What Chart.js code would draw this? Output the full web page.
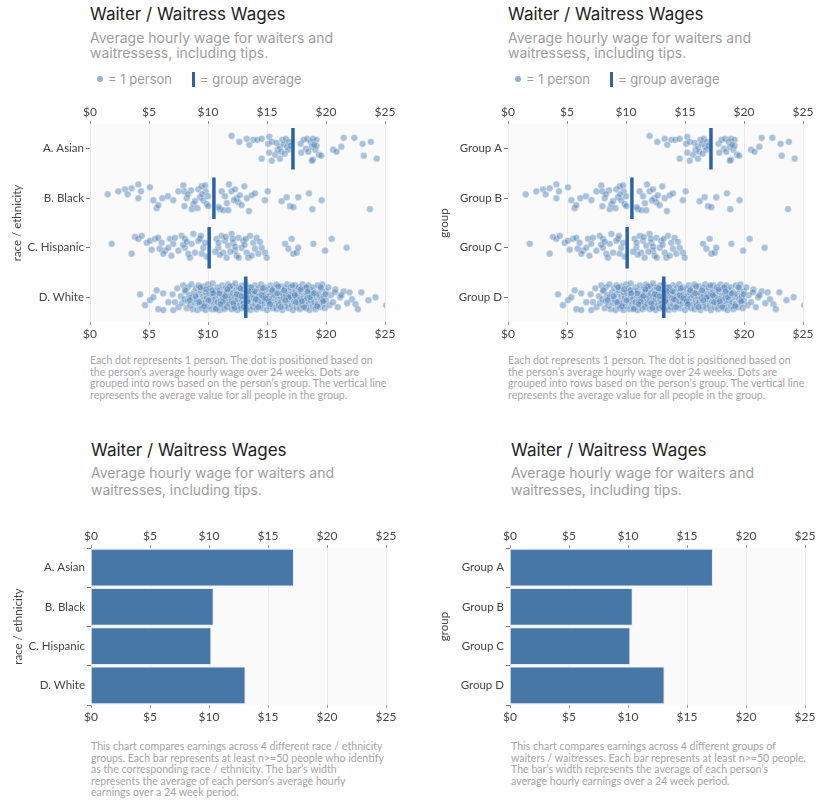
<!DOCTYPE html>
<html>
<head>
<meta charset="utf-8">
<script src="https://cdn.jsdelivr.net/npm/chart.js@4.4.1/dist/chart.umd.min.js"></script>
<style>
    body { margin: 0; background: #fff; width: 830px; height: 809px; position: relative; overflow: hidden; }
    .title { position: absolute; font-family: Inter, sans-serif; font-weight: 400; font-size: 17px; line-height: 20px; color: #222; white-space: nowrap; }
    .sub { position: absolute; font-family: Inter, sans-serif; font-size: 14px; color: #9d9d9d; white-space: nowrap; }
    .legend { position: absolute; font-family: Inter, sans-serif; font-size: 13px; line-height: 16px; color: #9d9d9d; white-space: nowrap; }
    .legend .dot { display: inline-block; width: 6px; height: 6px; border-radius: 50%; background: #8fb2d6; margin-right: 5px; vertical-align: 2px; }
    .legend .bar { display: inline-block; width: 3px; height: 15px; background: #2b64a6; margin: 0 5px 0 20px; vertical-align: -3px; }
    .caption { position: absolute; font-family: Lato, sans-serif; font-size: 10.6px; color: #a4a4a4; white-space: nowrap; }
    canvas { position: absolute; }
</style>
</head>
<body>

<!-- top left -->
<div class="title" style="left:90px;top:4px">Waiter / Waitress Wages</div>
<div class="sub" style="left:90px;top:30px;line-height:15px">Average hourly wage for waiters and<br>waitressess, including tips.</div>
<div class="legend" style="left:97px;top:71px"><span class="dot"></span>= 1 person<span class="bar"></span>= group average</div>
<canvas id="dotsRace" width="400" height="250" style="left:0;top:95px"></canvas>
<div class="caption" style="left:90px;top:355px;line-height:11.5px">Each dot represents 1 person. The dot is positioned based on<br>the person’s average hourly wage over 24 weeks. Dots are<br>grouped into rows based on the person’s group. The vertical line<br>represents the average value for all people in the group.</div>

<!-- top right -->
<div class="title" style="left:508px;top:4px">Waiter / Waitress Wages</div>
<div class="sub" style="left:508px;top:30px;line-height:15px">Average hourly wage for waiters and<br>waitressess, including tips.</div>
<div class="legend" style="left:515px;top:71px"><span class="dot"></span>= 1 person<span class="bar"></span>= group average</div>
<canvas id="dotsGroup" width="400" height="250" style="left:418px;top:95px"></canvas>
<div class="caption" style="left:508px;top:355px;line-height:11.5px">Each dot represents 1 person. The dot is positioned based on<br>the person’s average hourly wage over 24 weeks. Dots are<br>grouped into rows based on the person’s group. The vertical line<br>represents the average value for all people in the group.</div>

<!-- bottom left -->
<div class="title" style="left:91px;top:440px">Waiter / Waitress Wages</div>
<div class="sub" style="left:91px;top:465px;line-height:16.5px">Average hourly wage for waiters and<br>waitresses, including tips.</div>
<canvas id="barsRace" width="400" height="209" style="left:1px;top:518px"></canvas>
<div class="caption" style="left:91px;top:741px;line-height:11.6px">This chart compares earnings across 4 different race / ethnicity<br>groups. Each bar represents at least n&gt;=50 people who identify<br>as the corresponding race / ethnicity. The bar’s width<br>represents the average of each person’s average hourly<br>earnings over a 24 week period.</div>

<!-- bottom right -->
<div class="title" style="left:511px;top:440px">Waiter / Waitress Wages</div>
<div class="sub" style="left:511px;top:465px;line-height:16.5px">Average hourly wage for waiters and<br>waitresses, including tips.</div>
<canvas id="barsGroup" width="400" height="209" style="left:420px;top:518px"></canvas>
<div class="caption" style="left:511px;top:741px;line-height:11.7px">This chart compares earnings across 4 different groups of<br>waiters / waitresses. Each bar represents at least n&gt;=50 people.<br>The bar’s width represents the average of each person’s<br>average hourly earnings over a 24 week period.</div>

<script>
const raceLabels = ["A. Asian", "B. Black", "C. Hispanic", "D. White"];
const groupLabels = ["Group A", "Group B", "Group C", "Group D"];
const xTicks = [0, 5, 10, 15, 20, 25];

// bar widths = average hourly wage per group
const barValues = [17.2, 10.4, 10.2, 13.1];
// vertical line in the dot plots
const groupAverages = [17.2, 10.5, 10.1, 13.2];

// one person = [wage, vertical jitter inside the row]
const asianDots = [
    [12.0,-13],[12.65,-7],[13.28,-10],[13.5,-4],[13.84,-9],[14.18,-9],[14.55,-10],[15.2,-12],[15.1,-5],[15.4,-7],
    [14.55,10],[15.2,4],[15.4,12],[15.7,6],[15.9,1],[16.1,-2],[16.3,-9],[16.44,-5],[16.6,-10],[16.7,-2],
    [16.86,-7],[16.1,10],[16.8,1],[17.0,-3],[17.85,-5],[18.1,-9],[18.4,-10],[18.7,-7],[18.9,-10],[19.2,-9],
    [18.3,0],[18.5,3],[18.8,-2],[19.1,1],[18.9,11],[19.4,6],[19.2,-3],[19.6,7],[20.6,1],[20.9,3],
    [21.3,-2],[21.5,-11],[22.4,-11],[23.1,-5],[23.8,-7],[23.2,7],[24.3,10],[18.8,12],[16.2,3],[16.5,5],
    [15.8,-6],[17.9,4],[19.0,-4]
];
const blackDots = [
    [1.5,-4],[2.4,-7],[2.97,-9],[3.19,-4],[3.53,-10],[4.1,-14],[4.1,0],[4.32,-7],[5.08,-11],[5.37,2],
    [5.65,10],[5.79,7],[6.13,0],[7.06,2],[7.49,-7],[7.91,-13],[7.99,-7],[8.19,0],[8.56,-8],[8.62,11],
    [8.76,6],[9.18,-9],[9.32,-1],[9.46,-12],[9.6,2],[9.8,-7],[9.89,6],[10.03,8],[9.75,-13],[11.02,11],
    [11.3,12],[11.72,12],[11.16,-7],[11.44,-2],[11.78,-14],[12.0,-7],[12.29,-9],[12.43,0],[12.57,4],[12.85,7],
    [13.08,-12],[13.28,0],[13.47,13],[13.7,-3],[13.98,-5],[14.83,2],[15.06,-7],[16.24,3],[16.67,-1],[16.95,8],
    [17.23,9],[17.65,-1],[18.56,-5],[18.84,11],[19.63,2],[23.73,11],[8.3,-4],[8.9,3],[9.1,10],[9.5,-4],
    [10.0,-2],[11.6,5],[12.2,2],[12.7,-3],[10.9,9],[8.0,8],[6.6,-2]
];
const hispanicDots = [
    [1.84,-4],[3.53,6],[3.81,-11],[4.1,-9],[4.38,-12],[4.8,-5],[5.08,-7],[5.23,2],[5.51,-9],[5.79,-10],
    [6.07,-5],[6.36,3],[6.21,6],[6.64,0],[6.78,-9],[7.06,-4],[7.2,-10],[7.49,3],[7.77,-12],[8.05,-9],
    [8.05,0],[8.33,6],[8.47,10],[8.62,-4],[8.76,-14],[8.9,5],[9.18,-7],[9.32,-9],[9.46,6],[9.6,0],
    [9.75,-5],[10.73,-9],[10.88,0],[11.16,-12],[11.3,5],[11.44,-7],[11.58,10],[11.72,-2],[12.0,-14],[12.15,-5],
    [12.29,3],[12.43,8],[12.57,-10],[12.85,0],[12.99,-7],[13.28,5],[13.42,10],[13.56,-12],[13.84,-5],[13.98,1],
    [14.12,-10],[14.27,6],[14.55,0],[14.83,5],[14.97,10],[16.53,-4],[16.81,1],[17.09,-9],[17.23,6],[17.51,5],
    [17.65,0],[18.93,-4],[19.92,3],[20.48,-9],[21.75,0],[9.4,-12],[9.9,9],[10.9,-5],[11.0,7],[11.9,4],
    [12.1,-9],[12.6,10],[13.1,-3],[13.7,8],[14.4,-6],[11.5,-11],[10.6,4],[7.9,-3],[6.9,8],[5.9,1],
    [12.3,-1],[8.2,-6],[13.2,-9]
];
const whiteDots = [
    [4.24,-3],[4.66,8],[5.08,3],[5.37,0],[5.65,-7],[5.79,12],[6.21,13],[7.06,13],[6.64,5],[6.2,-4],
    [7.0,-3],[7.2,5],[7.4,-9],[7.5,10],[7.7,-1],[7.8,6],[7.9,-12],[8.0,2],[8.1,-6],[8.2,11],
    [8.3,-10],[8.3,4],[8.4,-2],[8.5,8],[8.6,-13],[8.6,0],[8.7,12],[8.8,-5],[8.9,6],[9.0,-9],
    [9.0,2],[9.1,13],[9.2,-12],[9.2,-3],[9.3,8],[9.4,-7],[9.4,4],[9.5,11],[9.6,-1],[9.6,-11],
    [9.7,6],[9.8,-5],[9.8,13],[9.9,1],[10.0,-13],[10.0,9],[10.1,-4],[10.2,4],[10.2,-9],[10.3,12],
    [10.4,-1],[10.4,-14],[10.5,7],[10.6,-6],[10.6,2],[10.7,11],[10.8,-10],[10.8,5],[10.9,-2],[11.0,13],
    [11.0,-7],[11.1,3],[11.2,-12],[11.2,8],[11.3,-3],[11.3,0],[11.4,12],[11.5,-9],[11.5,5],[11.6,-5],
    [11.6,10],[11.7,-13],[11.7,1],[11.8,7],[11.9,-8],[11.9,-1],[12.0,12],[12.0,4],[12.1,-11],[12.1,-4],
    [12.2,9],[12.3,0],[12.3,-14],[12.4,6],[12.4,-7],[12.5,13],[12.5,2],[12.6,-10],[12.6,-2],[12.7,8],
    [12.8,-5],[12.8,11],[12.9,3],[12.9,-12],[13.0,-8],[13.0,6],[13.1,0],[13.2,12],[13.2,-13],[13.3,-4],
    [13.4,9],[13.4,2],[13.5,-10],[13.5,-1],[13.6,13],[13.6,5],[13.7,-7],[13.8,10],[13.8,-3],[13.9,1],
    [14.0,-12],[14.0,7],[14.1,-5],[14.1,12],[14.2,3],[14.3,-9],[14.3,-1],[14.4,8],[14.5,-13],[14.5,4],
    [14.6,-6],[14.6,11],[14.7,0],[14.8,-10],[14.8,6],[14.9,-3],[15.0,13],[15.0,2],[15.1,-8],[15.2,9],
    [15.2,-1],[15.3,-12],[15.3,5],[15.4,-5],[15.5,11],[15.5,1],[15.6,-9],[15.7,7],[15.7,-2],[15.8,-13],
    [15.8,12],[15.9,3],[16.0,-6],[16.0,8],[16.1,-1],[16.2,-11],[16.2,5],[16.3,13],[16.3,-4],[16.4,1],
    [16.5,-9],[16.5,9],[16.6,-2],[16.7,-13],[16.7,6],[16.8,11],[16.8,-6],[16.9,2],[17.0,-10],[17.0,-1],
    [17.1,8],[17.2,-4],[17.2,13],[17.3,4],[17.4,-12],[17.4,-7],[17.5,10],[17.5,0],[17.6,-3],[17.7,6],
    [17.7,-10],[17.8,12],[17.8,2],[17.9,-6],[18.0,-13],[18.0,8],[18.1,-1],[18.2,4],[18.2,-9],[18.3,11],
    [18.4,-4],[18.4,1],[18.5,-12],[18.5,7],[18.6,13],[18.7,-7],[18.7,3],[18.8,-2],[18.9,9],[18.9,-10],
    [19.0,5],[19.1,-5],[19.1,12],[19.2,0],[19.3,-12],[19.3,7],[19.4,-3],[19.5,10],[19.6,-8],[19.6,2],
    [19.7,-13],[19.8,6],[19.8,-1],[19.9,11],[20.0,-6],[20.0,3],[20.2,-10],[20.3,8],[20.4,-2],[20.6,5],
    [20.8,-8],[21.0,10],[21.2,0],[21.5,-6],[21.8,6],[20.76,-5],[21.3,-2],[22.0,-5],[22.2,2],[22.5,7],
    [23.0,-5],[23.6,3],[24.2,0],[25.1,8],[22.7,12],
    [8.05,-7],[8.45,3],[8.95,-1],[9.35,-10],[9.65,9],[10.05,3],[10.35,-7],[10.65,12],[10.95,-4],[11.25,4],
    [11.45,-1],[11.85,-11],[12.15,6],[12.45,-3],[12.75,-9],[13.05,10],[13.35,4],[13.65,-10],[13.95,-6],[14.25,10],
    [14.55,-2],[14.85,1],[15.15,4],[15.45,-7],[15.85,-4],[16.15,10],[16.45,-7],[16.85,0],[17.15,-12],[17.45,5],
    [17.85,-8],[18.15,10],[18.35,-10],[18.65,0],[18.95,-4],[19.25,9],[19.55,-10],[19.75,4],[19.95,-3],[9.25,5],
    [9.85,-8],[10.45,-4],[11.05,7],[11.65,-8],[12.25,11],[12.85,-1],[13.45,-6],[14.05,2],[14.65,-9],[15.25,7],
    [15.95,-11],[16.55,3],[17.35,-2],[17.95,4],[18.45,-6]
];
const dotRows = [asianDots, blackDots, hispanicDots, whiteDots];

// jitter numbers are in pixels of the reference, one row is ~50px
const JITTER_UNIT = 1 / 50;

Chart.defaults.font.family = "Lato, sans-serif";
Chart.defaults.animation = false;

// light grey panel behind the marks
const panelBg = {
    id: "panelBg",
    beforeDraw(chart) {
        const { ctx, chartArea: a } = chart;
        ctx.save();
        ctx.fillStyle = "#fafafa";
        ctx.fillRect(a.left, a.top, a.right - a.left, a.bottom - a.top);
        ctx.restore();
    }
};

function moneyAxis(position, height, onChart) {
    return {
        type: "linear",
        position: position,
        min: 0,
        max: 25,
        afterBuildTicks: axis => { axis.ticks = xTicks.map(v => ({ value: v })); },
        afterFit: axis => { axis.height = height; },
        border: { display: false },
        grid: {
            drawOnChartArea: onChart,
            color: "#ebebeb",
            tickColor: "#9a9a9a",
            tickLength: 3
        },
        ticks: {
            padding: 2,
            color: "#444",
            font: { size: 12 },
            callback: v => "$" + v
        }
    };
}

// the axis title sits a little left of the longest tick label
function yTitle(text, gap) {
    return { display: true, text: text, color: "#444", font: { size: 11.5 }, padding: { top: gap, bottom: 4 } };
}

function makeDotChart(id, labels, axisTitle, gap) {
    const datasets = [];

    groupAverages.forEach((avg, i) => {
        datasets.push({
            data: [{ x: avg, y: i - 0.42 }, { x: avg, y: i + 0.42 }],
            showLine: true,
            pointRadius: 0,
            borderColor: "#2b64a6",
            borderWidth: 3.5,
            order: 1
        });
    });

    datasets.push({
        data: dotRows.flatMap((row, i) => row.map(p => ({ x: p[0], y: i + p[1] * JITTER_UNIT }))),
        pointRadius: 3.4,
        backgroundColor: "rgba(70,125,180,0.45)",
        borderColor: "rgba(255,255,255,0.6)",
        borderWidth: 0.6,
        order: 2
    });

    new Chart(document.getElementById(id), {
        type: "scatter",
        data: { datasets },
        plugins: [panelBg],
        options: {
            responsive: false,
            layout: { padding: { right: 15 } },
            plugins: { legend: { display: false }, tooltip: { enabled: false } },
            scales: {
                x: moneyAxis("bottom", 23, true),
                x2: moneyAxis("top", 29, false),
                y: {
                    type: "linear",
                    min: -0.5,
                    max: 3.5,
                    reverse: true,
                    afterBuildTicks: axis => { axis.ticks = labels.map((_, i) => ({ value: i })); },
                    afterFit: axis => { axis.width = 90; },
                    border: { display: false },
                    grid: { drawOnChartArea: false, tickColor: "#777", tickLength: 4 },
                    ticks: { padding: 2, color: "#444", font: { size: 11.5 }, callback: v => labels[v] },
                    title: yTitle(axisTitle, gap)
                }
            }
        }
    });
}

function makeBarChart(id, labels, axisTitle, gap) {
    new Chart(document.getElementById(id), {
        type: "bar",
        data: {
            labels: labels,
            datasets: [{
                data: barValues,
                backgroundColor: "#4677a7",
                borderColor: "#e3ebf2",
                borderWidth: 1,
                barPercentage: 0.96,
                categoryPercentage: 1
            }]
        },
        plugins: [panelBg],
        options: {
            indexAxis: "y",
            responsive: false,
            layout: { padding: { right: 15 } },
            plugins: { legend: { display: false }, tooltip: { enabled: false } },
            scales: {
                x: moneyAxis("bottom", 22, true),
                x2: moneyAxis("top", 30, false),
                y: {
                    afterFit: axis => { axis.width = 90; },
                    border: { display: false },
                    grid: { drawOnChartArea: false, tickColor: "#777", tickLength: 4 },
                    ticks: { padding: 2, color: "#444", font: { size: 11.5 } },
                    title: yTitle(axisTitle, gap)
                }
            }
        }
    });
}

makeDotChart("dotsRace", raceLabels, "race / ethnicity", 10);
makeDotChart("dotsGroup", groupLabels, "group", 19);
makeBarChart("barsRace", raceLabels, "race / ethnicity", 10);
makeBarChart("barsGroup", groupLabels, "group", 17);
</script>
</body>
</html>
